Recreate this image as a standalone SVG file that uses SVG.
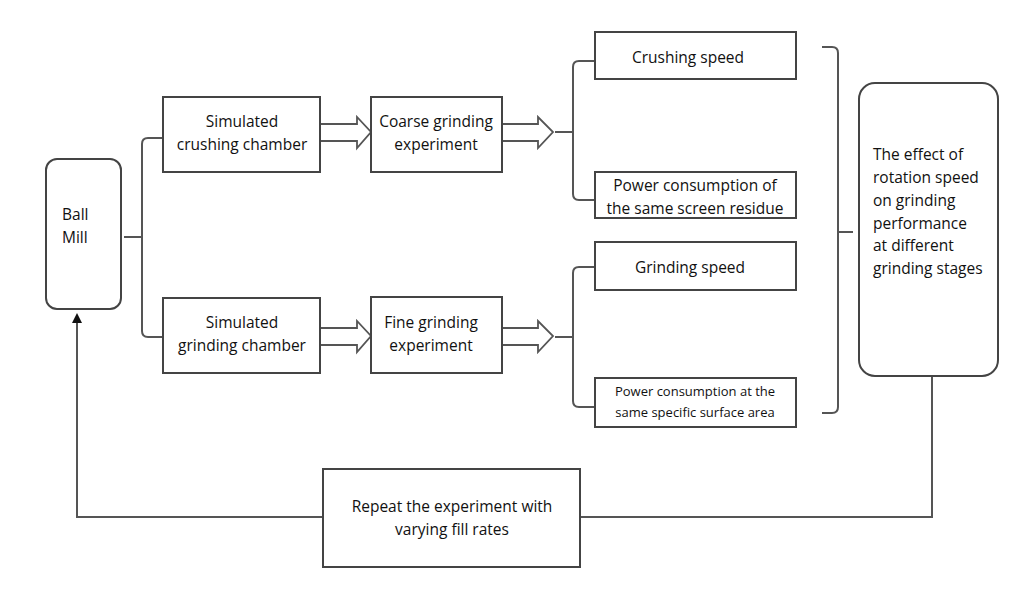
<svg xmlns="http://www.w3.org/2000/svg" width="1024" height="592" viewBox="0 0 1024 592">
<style>
.box{fill:#fff;stroke:#444;stroke-width:2}
.ln{fill:none;stroke:#555;stroke-width:2}
.ha{fill:#fff;stroke:#555;stroke-width:1.8;stroke-linejoin:miter}
text{font-family:"Open Sans","Noto Sans","Liberation Sans",sans-serif;font-size:15.5px;fill:#111}
.c{text-anchor:middle}
.s{font-size:13px}
</style>
<defs>
<marker id="ah" markerWidth="10" markerHeight="10" refX="5" refY="5" orient="auto" markerUnits="userSpaceOnUse">
<path d="M0,0 L10,5 L0,10 Z" fill="#111"/>
</marker>
</defs>
<rect width="1024" height="592" fill="#fff"/>
<g id="connectors">
<path class="ln" d="M163,138 H148 Q142,138 142,144 V331 Q142,337 148,337 H163"/>
<path class="ln" d="M124,237 H142"/>
<polygon class="ha" points="320,124 357,124 357,117 371,132 357,148 357,141 320,141"/>
<polygon class="ha" points="502,124 538,124 538,117 553,132 538,148 538,141 502,141"/>
<polygon class="ha" points="320,328 357,328 357,321 371,336 357,352 357,345 320,345"/>
<polygon class="ha" points="502,328 538,328 538,321 553,336 538,352 538,345 502,345"/>
<path class="ln" d="M595,61 H579 Q573,61 573,67 V194 Q573,200 579,200 H595"/>
<path class="ln" d="M555,132 H573"/>
<path class="ln" d="M595,267 H579 Q573,267 573,273 V401 Q573,407 579,407 H595"/>
<path class="ln" d="M555,337 H573"/>
<path class="ln" d="M822,47 H832 Q838,47 838,53 V407 Q838,413 832,413 H822"/>
<path class="ln" d="M838,232 H853"/>
<path class="ln" d="M932,376 V517 H580"/>
<path class="ln" d="M323,517 H77 V318" marker-end="url(#ah)"/>
</g>
<g id="ball-mill">
<rect class="box" x="46" y="159" width="75" height="150" rx="11"/>
<text x="62" y="220">Ball</text>
<text x="62" y="243">Mill</text>
</g>
<g id="sim-crushing">
<rect class="box" x="163" y="97" width="157" height="75"/>
<text class="c" x="242" y="127">Simulated</text>
<text class="c" x="242" y="150">crushing chamber</text>
</g>
<g id="sim-grinding">
<rect class="box" x="163" y="298" width="157" height="75"/>
<text class="c" x="242" y="328">Simulated</text>
<text class="c" x="242" y="351">grinding chamber</text>
</g>
<g id="coarse">
<rect class="box" x="371" y="97" width="131" height="75"/>
<text class="c" x="436" y="127">Coarse grinding</text>
<text class="c" x="436" y="150">experiment</text>
</g>
<g id="fine">
<rect class="box" x="371" y="297" width="131" height="76"/>
<text class="c" x="431" y="328">Fine grinding</text>
<text class="c" x="431" y="351">experiment</text>
</g>
<g id="crushing-speed">
<rect class="box" x="595" y="32" width="201" height="47"/>
<text class="c" x="688" y="63">Crushing speed</text>
</g>
<g id="power-residue">
<rect class="box" x="595" y="172" width="201" height="46"/>
<text class="c" x="695" y="191">Power consumption of</text>
<text class="c" x="695" y="214">the same screen residue</text>
</g>
<g id="grinding-speed">
<rect class="box" x="595" y="242" width="201" height="48"/>
<text class="c" x="690" y="273">Grinding speed</text>
</g>
<g id="power-surface">
<rect class="box" x="595" y="378" width="201" height="49"/>
<text class="c s" x="695" y="396">Power consumption at the</text>
<text class="c s" x="695" y="417">same specific surface area</text>
</g>
<g id="effect">
<rect class="box" x="859" y="83" width="139" height="293" rx="16"/>
<text x="873" y="160">The effect of</text>
<text x="873" y="183">rotation speed</text>
<text x="873" y="206">on grinding</text>
<text x="873" y="229">performance</text>
<text x="873" y="251">at different</text>
<text x="873" y="274">grinding stages</text>
</g>
<g id="repeat">
<rect class="box" x="323" y="469" width="257" height="98"/>
<text class="c" x="452" y="512">Repeat the experiment with</text>
<text class="c" x="452" y="535">varying fill rates</text>
</g>
</svg>
